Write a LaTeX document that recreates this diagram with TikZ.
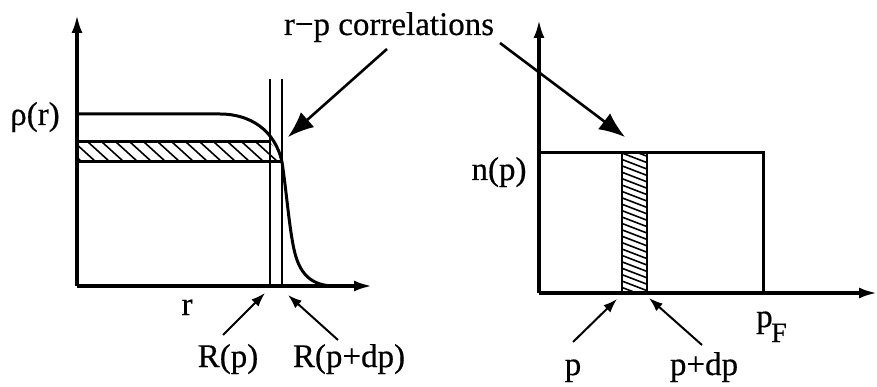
\documentclass[tikz,border=0pt]{standalone}
\usepackage{fontspec}
\setmainfont[FakeBold=0.5]{Liberation Serif}
\usetikzlibrary{arrows.meta}
\tikzset{
  lbl/.style={inner sep=0pt, font=\fontsize{33}{40}\selectfont},
  axis/.style={line width=3.2pt, -{Latex[length=18pt,width=11pt]}},
  thick line/.style={line width=3pt},
  thin line/.style={line width=2.3pt},
  hatch/.style={line width=1.6pt},
  bigarrow/.style={line width=2.6pt, -{Latex[length=26pt,width=20pt]}},
  smallarrow/.style={line width=2pt, -{Latex[length=14pt,width=10pt]}},
}
\begin{document}
\begin{tikzpicture}[x=1pt,y=-1pt]
\useasboundingbox (0,0) rectangle (877,387);
% ---------- left panel ----------
\coordinate (Lo) at (77,286);
\coordinate (Ly) at (77,15);
\coordinate (Lx) at (372,286);
% hatch in band
\begin{scope}
  \clip (77,142) -- (270,142) -- (277,151) -- (282,162) -- (77,162) -- cycle;
  \foreach \x in {60,74,...,300} {
    \draw[hatch] (\x-5.5,137) -- (\x+27.5,167);
  }
\end{scope}
\draw[thick line] (77,142) -- (270,142);
\draw[thick line] (77,162) -- (282,162);
% density curve
\draw[thick line] (77,114) -- (220,114)
  .. controls (250,114) and (275,130) .. (282,162)
  .. controls (287,195) and (290,238) .. (296,257)
  .. controls (303,280) and (318,286) .. (335,286);
% vertical lines
\draw[thin line] (270,79) -- (270,286);
\draw[thin line] (282,79) -- (282,286);
% axes
\draw[axis] (Lo) -- (Ly);
\draw[axis] (Lo) -- (Lx);
% labels
\node[lbl, anchor=base] (rho) at (35,125) {ρ(r)};
\node[lbl, anchor=base] (rlab) at (187,315) {r};
\node[lbl, anchor=base] (Rp) at (228,367) {R(p)};
\node[lbl, anchor=base] (Rpdp) at (349,367) {R(p+dp)};
\node[lbl, anchor=base] (title) at (389,35) {r−p correlations};
% arrows
\coordinate (a1s) at (387,49);
\coordinate (a1t) at (288,137);
\coordinate (a2s) at (500,43);
\coordinate (a2t) at (625,137);
\draw[bigarrow] (a1s) -- (a1t);
\draw[bigarrow] (a2s) -- (a2t);
\coordinate (s1s) at (223,335);
\coordinate (s1t) at (265,293);
\coordinate (s2s) at (338,340);
\coordinate (s2t) at (288,295);
\draw[smallarrow] (s1s) -- (s1t);
\draw[smallarrow] (s2s) -- (s2t);
% ---------- right panel ----------
\coordinate (Ro) at (539,293);
\coordinate (Ry) at (539,20);
\coordinate (Rx) at (877,293);
\begin{scope}
  \clip (622,153) rectangle (647,293);
  \foreach \y in {130,136.4,...,300} {
    \draw[hatch] (612,\y) -- (657,\y+17.3);
  }
\end{scope}
\draw[thin line] (622,153) -- (622,293);
\draw[thin line] (647,153) -- (647,293);
\draw[thick line] (539,153) -- (763,153) -- (763,293);
\draw[axis] (Ro) -- (Ry);
\draw[axis] (Ro) -- (Rx);
\node[lbl, anchor=base] (np) at (499,180) {n(p)};
\node[lbl, anchor=base west] (pF) at (756,327) {p\kern-1.5pt\raisebox{-15pt}{\fontsize{28}{30}\selectfont F}};
\node[lbl, anchor=base] (plab) at (573,375) {p};
\node[lbl, anchor=base] (pdp) at (704,375) {p+dp};
\coordinate (s3s) at (573,342);
\coordinate (s3t) at (617,299);
\coordinate (s4s) at (702,345);
\coordinate (s4t) at (649,298);
\draw[smallarrow] (s3s) -- (s3t);
\draw[smallarrow] (s4s) -- (s4t);
\end{tikzpicture}
\end{document}
